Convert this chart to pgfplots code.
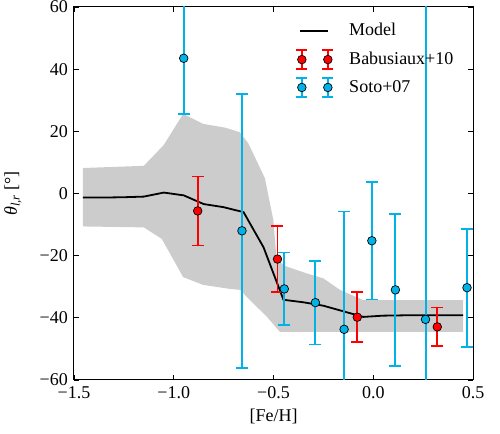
\documentclass[border=0pt]{standalone}
\usepackage{pgfplots}
\pgfplotsset{compat=1.18}
\usepackage{fontspec}
\setmainfont{Liberation Serif}
\definecolor{sotoblue}{RGB}{0,178,232}
\definecolor{band}{RGB}{204,204,204}
\pgfplotsset{
  errimg/.style={legend image code/.code={\path (0bp,-13.75bp) (0bp,13.75bp);
    \draw[#1, line width=1.8bp] (1.7bp,-9.5bp) -- (1.7bp,9.5bp)
      (-3.8bp,-9.5bp) -- (7.2bp,-9.5bp) (-3.8bp,9.5bp) -- (7.2bp,9.5bp)
      (27.7bp,-9.5bp) -- (27.7bp,9.5bp)
      (22.2bp,-9.5bp) -- (33.2bp,-9.5bp) (22.2bp,9.5bp) -- (33.2bp,9.5bp);
    \filldraw[fill=#1, draw=black, line width=0.7bp] (1.7bp,0bp) circle (4.3bp) (27.7bp,0bp) circle (4.3bp);}},
  errbars/.style={forget plot, draw=none, mark=none,
    error bars/.cd, y dir=both, y explicit,
    error bar style={draw=#1, solid, line width=1.8bp},
    error mark options={draw=#1, solid, rotate=90, mark size=6bp, line width=1.8bp}},
  dots/.style={only marks, mark=*, mark size=4.3bp,
    mark options={fill=#1, draw=black, solid, line width=0.7bp}, errimg=#1},
}
\begin{document}
\fontsize{18bp}{21.6bp}\selectfont
\begin{tikzpicture}
\begin{axis}[name=ax, scale only axis, width=399bp, height=373bp,
  xmin=-1.5, xmax=0.5, ymin=-60, ymax=60,
  xtick={-1.5,-1,-0.5,0,0.5}, xticklabels={−1.5,−1.0,−0.5,0.0,0.5},
  ytick={-60,-40,-20,0,20,40,60}, yticklabels={−60,−40,−20,0,20,40,60},
  tick align=inside, major tick length=5bp,
  tick style={black, line width=0.8bp},
  axis line style={line width=1bp},
  every axis x label/.style={at={(axis description cs:0.5,0)}, anchor=center, yshift=-36.7bp},
  every axis y label/.style={at={(axis description cs:0,0.5)}, anchor=center, xshift=-61bp, rotate=90},
  xlabel={[Fe/H]},
  ylabel={\textit{θ}\textsubscript{\textit{l,r}} [°]},
  legend style={at={(axis cs:-0.390,57.0)}, anchor=north west, draw=none, fill=none,
    inner sep=0pt, outer sep=0pt, column sep=15bp, row sep=0pt,
    nodes={inner sep=0pt, anchor=west}},
]
\addplot[fill=band, draw=none, forget plot] coordinates {
 (-1.455,8.2) (-1.15,8.9) (-1.05,15.6) (-0.953,25.6) (-0.853,22.4) (-0.743,21.2)
 (-0.668,19.7) (-0.626,16.1) (-0.543,4.9) (-0.501,-8.5) (-0.484,-21.4) (-0.434,-23.5)
 (-0.334,-25.7) (-0.25,-27.3) (-0.167,-31) (-0.05,-34.3) (0.45,-34.3)
 (0.45,-44.5) (-0.468,-44.5) (-0.534,-39.6) (-0.618,-34.3) (-0.668,-31) (-0.718,-30.7)
 (-0.853,-29.4) (-0.953,-26.9) (-1.06,-14.6) (-1.15,-10.9) (-1.455,-10.6)
};
\addplot[black, line width=1.8bp, no marks,
  legend image code/.code={\path (0bp,-13.75bp) (0bp,13.75bp);
    \draw[black, line width=1.8bp] (0bp,0bp) -- (28bp,0bp);}] coordinates {
 (-1.455,-1.3) (-1.35,-1.3) (-1.25,-1.2) (-1.15,-1.0) (-1.05,0.3) (-0.95,-0.6)
 (-0.85,-3.4) (-0.75,-4.4) (-0.65,-6.0) (-0.55,-17.3) (-0.45,-34.2) (-0.35,-35.0)
 (-0.25,-36.1) (-0.15,-37.9) (-0.05,-39.7) (0.05,-39.3) (0.15,-39.2) (0.25,-39.2)
 (0.35,-39.2) (0.45,-39.2)
};
\addlegendentry{Model}
\pgfplotstableread{
x y e
-0.880 -5.6 11.1
-0.480 -21.1 10.6
-0.080 -39.8 8.0
0.321 -42.9 6.25
}\babu
\pgfplotstableread{
x y e
-0.950 43.5 18.0
-0.658 -12.0 44.1
-0.446 -30.7 11.7
-0.290 -35.1 13.45
-0.146 -43.7 37.9
-0.007 -15.2 18.9
0.111 -31.0 24.5
0.470 -30.3 19.0
}\sotoerr
\pgfplotstableread{
x y
-0.950 43.5
-0.658 -12.0
-0.446 -30.7
-0.290 -35.1
-0.146 -43.7
-0.007 -15.2
0.111 -31.0
0.262 -40.5
0.470 -30.3
}\soto
\addplot[errbars=red] table[x=x, y=y, y error=e] {\babu};
\addplot[dots=red] table[x=x, y=y] {\babu};
\addlegendentry{Babusiaux+10}
\addplot[errbars=sotoblue] table[x=x, y=y, y error=e] {\sotoerr};
% error bar of the point at 0.262 spans the whole plotted range
\addplot[sotoblue, line width=1.8bp, no marks, forget plot] coordinates {(0.2625,-40.5) (0.2625,61)};
\addplot[sotoblue, line width=1.8bp, no marks, forget plot] coordinates {(0.2625,-61) (0.2625,-40.5)};
\addplot[dots=sotoblue] table[x=x, y=y] {\soto};
\addlegendentry{Soto+07}
\end{axis}
\pgfresetboundingbox
\path ([shift={(-74bp,-54bp)}]ax.south west) rectangle ([shift={(27bp,7bp)}]ax.north east);
\end{tikzpicture}
\end{document}
